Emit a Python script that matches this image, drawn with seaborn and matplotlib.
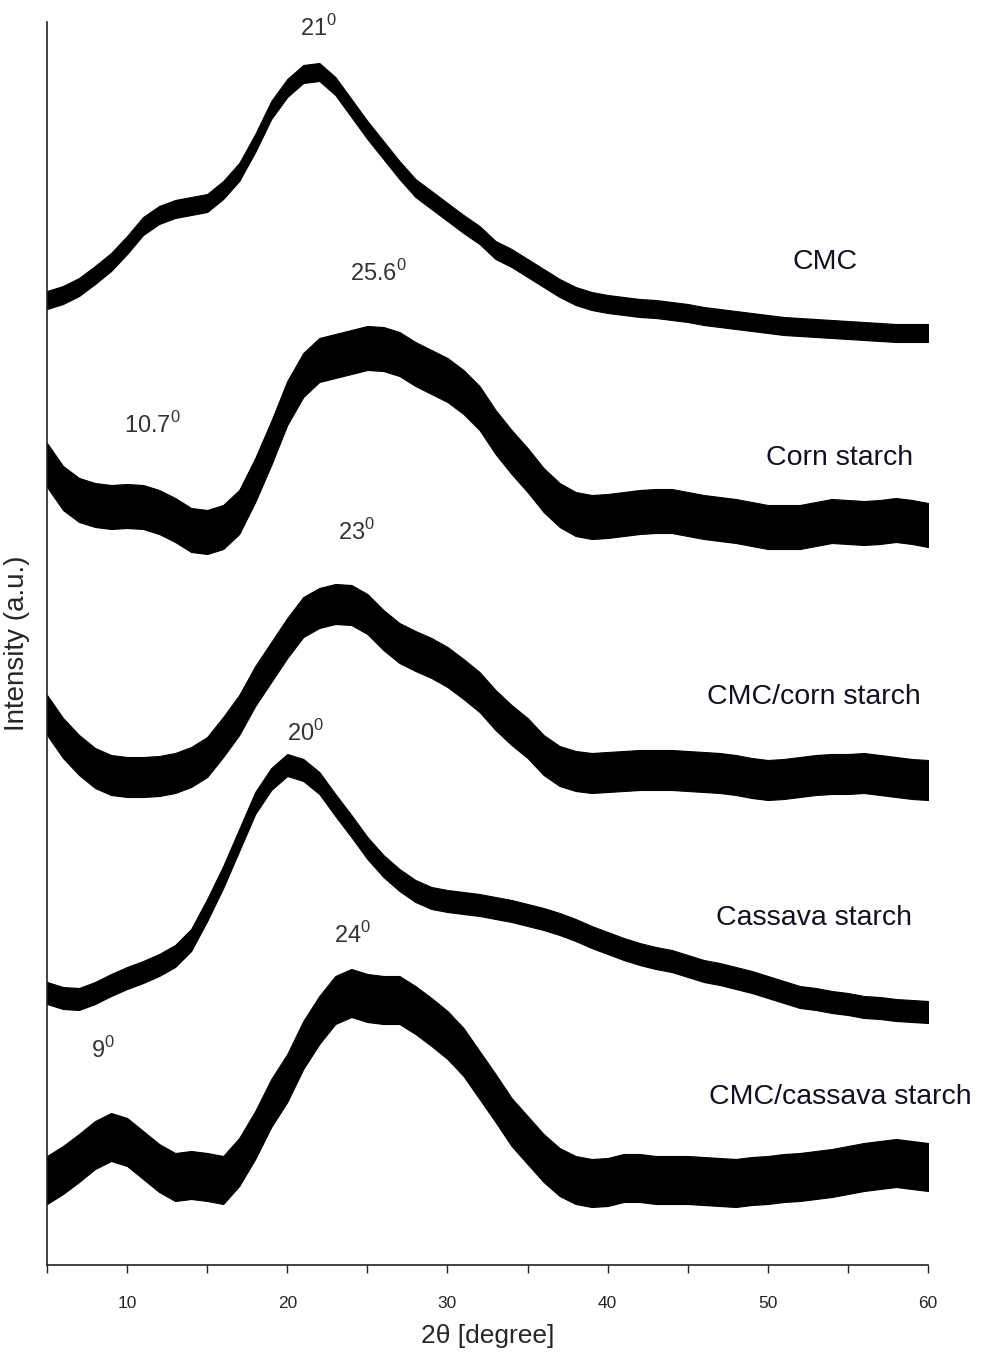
import matplotlib
matplotlib.use("Agg")
import matplotlib.pyplot as plt
import seaborn as sns
import pandas as pd

# Diffraction angle grid (2-theta, degrees)
two_theta = list(range(5, 61))

# Stacked intensity traces (a.u., vertically offset for display)
cmc = [965, 970, 978, 990, 1003, 1020, 1039, 1050, 1056, 1059, 1062, 1075, 1093, 1122,
       1155, 1177, 1191, 1193, 1179, 1157, 1135, 1115, 1095, 1077, 1065, 1053, 1041,
       1030, 1015, 1007, 997, 987, 977, 969, 964, 961, 959, 957, 956, 954, 952, 949,
       947, 945, 943, 941, 939, 938, 937, 936, 935, 934, 933, 932, 932, 932]
corn_starch = [800, 777, 765, 760, 758, 759, 758, 753, 745, 735, 733, 738, 753, 785,
               822, 862, 890, 905, 909, 913, 917, 916, 911, 901, 893, 885, 873, 857,
               833, 813, 795, 775, 760, 751, 748, 749, 751, 753, 754, 754, 751, 748,
               746, 744, 741, 738, 738, 738, 741, 744, 743, 742, 743, 745, 743, 740]
cmc_corn = [550, 527, 510, 497, 490, 488, 488, 489, 492, 498, 508, 528, 550, 579,
            603, 627, 648, 657, 661, 660, 651, 635, 622, 614, 607, 598, 586, 573,
            555, 540, 527, 510, 499, 494, 492, 493, 494, 495, 495, 495, 494, 493,
            492, 490, 487, 485, 486, 488, 490, 491, 491, 492, 490, 488, 486, 485]
cassava_starch = [272, 267, 266, 272, 280, 287, 293, 300, 309, 325, 355, 388, 425, 462,
                  486, 500, 495, 482, 460, 439, 417, 399, 385, 374, 367, 364, 362, 360,
                  357, 354, 350, 346, 341, 335, 328, 322, 316, 311, 307, 304, 299, 294,
                  291, 287, 283, 278, 273, 268, 266, 263, 261, 258, 257, 255, 254, 253]
cmc_cassava = [85, 95, 107, 120, 128, 123, 110, 97, 88, 90, 88, 85, 103, 130,
               162, 187, 220, 245, 265, 272, 267, 265, 265, 255, 243, 230, 213, 190,
               167, 143, 125, 107, 93, 85, 82, 83, 87, 87, 85, 85, 85, 84,
               83, 82, 84, 85, 87, 88, 90, 92, 95, 98, 100, 102, 100, 98]

# Half-width of the noise band of each trace (a.u.)
noise_halfwidth = [9, 22, 20, 11, 24]

samples = ["CMC", "Corn starch", "CMC/corn starch", "Cassava starch", "CMC/cassava starch"]
traces = [cmc, corn_starch, cmc_corn, cassava_starch, cmc_cassava]

# Peak annotations: (text, 2-theta position, height)
peak_text = ["21", "25.6", "10.7", "23", "20", "24", "9"]
peak_x = [21.96, 25.7, 11.6, 24.3, 21.15, 24.1, 8.5]
peak_y = [1237, 992, 840, 733, 532, 330, 215]

# Sample name labels
name_x = [53.6, 54.5, 52.9, 52.9, 54.5]
name_y = [1003, 807, 568, 347, 168]

sns.set_theme(style="white")
plt.rcParams["font.family"] = ["Liberation Sans", "DejaVu Sans"]
plt.rcParams["mathtext.fontset"] = "custom"
plt.rcParams["mathtext.rm"] = "Liberation Sans"

# Long-form table: each angle carries the lower and upper edge of the noise band
rows = []
for name, trace, hw in zip(samples, traces, noise_halfwidth):
    for t, v in zip(two_theta, trace):
        rows.append({"two_theta": t, "intensity": v - hw, "sample": name})
        rows.append({"two_theta": t, "intensity": v + hw, "sample": name})
df = pd.DataFrame(rows)

fig = plt.figure(figsize=(9.83, 13.65), dpi=100)
ax = fig.add_axes([47 / 983, 100 / 1365, (928 - 47) / 983, (1265 - 22) / 1365])

for name in samples:
    sns.lineplot(data=df[df["sample"] == name], x="two_theta", y="intensity",
                 estimator="mean", errorbar=("pi", 100), color="black",
                 linewidth=1.0, err_kws={"alpha": 1.0, "edgecolor": "black",
                                         "linewidth": 0.8},
                 ax=ax, legend=False)

for txt, x, y in zip(peak_text, peak_x, peak_y):
    ax.text(x, y, txt + r"$^{\mathregular{0}}$", ha="center", va="center",
            fontsize=17, color="#333333")

for name, x, y in zip(samples, name_x, name_y):
    ax.text(x, y, name, ha="center", va="center", fontsize=20.5, color="#111122")

ax.set_xlim(5, 60)
ax.set_ylim(0, 1243)
ax.set_xticks(list(range(5, 61, 5)))
ax.set_xticklabels(["" if t % 10 else str(t) for t in range(5, 61, 5)])
ax.set_yticks([])
ax.tick_params(axis="x", direction="out", length=6, width=1, color="#222222",
               labelsize=12.5, pad=16, bottom=True)
ax.set_xlabel("2θ [degree]", fontsize=19, labelpad=10)
ax.set_ylabel("Intensity (a.u.)", fontsize=20, labelpad=12)

for side in ["top", "right"]:
    ax.spines[side].set_visible(False)
for side in ["left", "bottom"]:
    ax.spines[side].set_color("#222222")
    ax.spines[side].set_linewidth(1.2)

fig.savefig("out.png", dpi=100, facecolor="white")
